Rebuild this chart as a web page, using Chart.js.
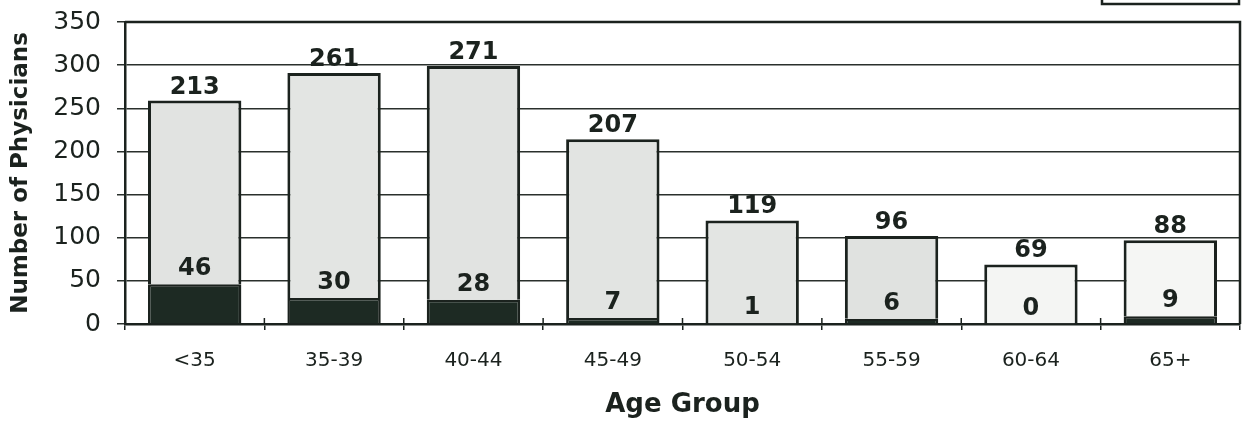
<!DOCTYPE html>
<html>
<head>
  <meta charset="UTF-8" />
  <title>Physicians by Age Group</title>
  <style>
    html, body { margin: 0; padding: 0; background: white; }
    #wrap { width: 1244px; height: 421px; }
  </style>
  <script src="https://cdn.jsdelivr.net/npm/chart.js"></script>
</head>
<body>
<div id="wrap"><canvas id="chart" width="1244" height="421"></canvas></div>
<script>
// Data
const ageGroups = ["<35", "35-39", "40-44", "45-49", "50-54", "55-59", "60-64", "65+"];
const darkCounts = [46, 30, 28, 7, 1, 6, 0, 9];
const lightCounts = [213, 261, 271, 207, 119, 96, 69, 88];
const yMax = 350;
const yStep = 50;

const ink = "#1b221e";
const lightFills = ["#e1e3e1", "#e3e5e3", "#e1e3e1", "#e2e4e2", "#e3e5e3", "#e0e2e0", "#f4f5f3", "#f5f6f4"];

// value labels: light value above the bar, dark value just above the dark segment
const valueLabels = {
  id: "valueLabels",
  afterDatasetsDraw(chart) {
    const ctx = chart.ctx;
    const darkMeta = chart.getDatasetMeta(0);
    const lightMeta = chart.getDatasetMeta(1);
    ctx.save();
    ctx.fillStyle = ink;
    ctx.font = "bold 24px 'DejaVu Sans'";
    ctx.textAlign = "center";
    ctx.textBaseline = "alphabetic";
    lightMeta.data.forEach((bar, i) => {
      ctx.fillText(String(lightCounts[i]), bar.x, bar.y - 7);
      const d = darkMeta.data[i];
      ctx.fillText(String(darkCounts[i]), d.x, d.y - 9);
    });
    ctx.restore();
  }
};

// plot frame, tick stubs above the axis, and the cut-off legend box edge
const frame = {
  id: "frame",
  afterDraw(chart) {
    const { ctx, chartArea: a, scales } = chart;
    ctx.save();
    ctx.strokeStyle = ink;
    ctx.lineWidth = 2.5;
    ctx.beginPath();
    ctx.moveTo(a.left, a.top);
    ctx.lineTo(a.right, a.top);
    ctx.lineTo(a.right, a.bottom);
    ctx.stroke();
    ctx.lineWidth = 1.5;
    const x = scales.x;
    for (let i = 1; i < ageGroups.length; i++) {
      const px = (x.getPixelForTick(i - 1) + x.getPixelForTick(i)) / 2;
      ctx.beginPath();
      ctx.moveTo(px, a.bottom - 6);
      ctx.lineTo(px, a.bottom);
      ctx.stroke();
    }
    ctx.lineWidth = 2.5;
    ctx.strokeRect(1102, -6, 137, 10);
    ctx.restore();
  }
};

new Chart(document.getElementById("chart").getContext("2d"), {
  type: "bar",
  data: {
    labels: ageGroups,
    datasets: [
      {
        label: "dark",
        data: darkCounts,
        backgroundColor: "#1d2a23",
        borderColor: ink,
        borderWidth: 2.5
      },
      {
        label: "light",
        data: lightCounts,
        backgroundColor: lightFills,
        borderColor: ink,
        borderWidth: 3
      }
    ]
  },
  options: {
    responsive: false,
    animation: false,
    devicePixelRatio: 1,
    layout: { padding: { top: 22, right: 4, left: 0, bottom: 0 } },
    datasets: { bar: { barPercentage: 0.67, categoryPercentage: 1 } },
    plugins: { legend: { display: false }, tooltip: { enabled: false } },
    scales: {
      x: {
        stacked: true,
        afterFit: (s) => { s.height = 97; },
        grid: { drawOnChartArea: false, drawTicks: true, tickLength: 6, color: ink, lineWidth: 1.5, offset: true },
        border: { color: ink, width: 2.5 },
        ticks: { color: ink, font: { family: "DejaVu Sans", size: 20 }, padding: 19, maxRotation: 0 },
        title: {
          display: true,
          text: "Age Group",
          color: ink,
          font: { family: "DejaVu Sans", size: 26, weight: "bold" },
          padding: { top: 0, bottom: 0 }
        }
      },
      y: {
        stacked: true,
        min: 0,
        max: yMax,
        afterFit: (s) => { s.width = 125; s.paddingTop = 0; },
        grid: { color: "#2a302c", lineWidth: 1.5, tickLength: 8 },
        border: { color: ink, width: 2.5 },
        ticks: { stepSize: yStep, color: ink, font: { family: "DejaVu Sans", size: 25 }, padding: 16 },
        title: {
          display: true,
          text: "Number of Physicians",
          color: ink,
          font: { family: "DejaVu Sans", size: 23, weight: "bold" },
          padding: { top: 7, bottom: 0 }
        }
      }
    }
  },
  plugins: [valueLabels, frame]
});
</script>
</body>
</html>
